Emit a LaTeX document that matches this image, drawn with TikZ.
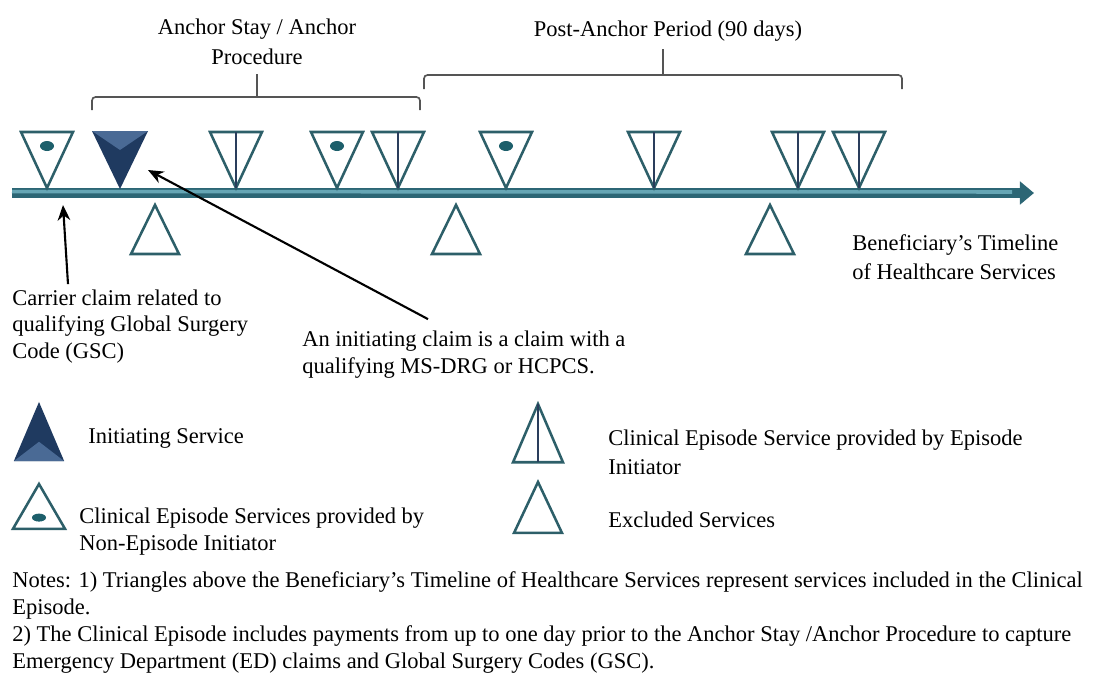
\documentclass[tikz,border=0pt]{standalone}
\usepackage{fontspec}
\setmainfont{Liberation Serif}
\usetikzlibrary{arrows.meta}
\definecolor{svcteal}{HTML}{2D5F69}
\definecolor{dotteal}{HTML}{1D5F6B}
\definecolor{svcnavy}{HTML}{2A3D5C}
\definecolor{ininavy}{HTML}{1F3A60}
\definecolor{inilight}{HTML}{4A6A95}
\definecolor{timedark}{HTML}{2C6675}
\definecolor{timelight}{HTML}{66A6B5}
\definecolor{bracegray}{HTML}{555555}
\newcommand{\txtsize}[1]{\fontsize{16pt}{#1}\selectfont}

\tikzset{
  tri/.style={draw=svcteal,line width=1.8pt,line join=miter,fill=white},
  brace/.style={draw=bracegray,line width=1.2pt,rounded corners=2.5pt},
  pointer/.style={draw=black,line width=1.5pt,-{Stealth[length=11pt,width=9pt]}},
  % multi-line labels sit on the baseline of their last line
  lbl/.style={inner sep=0pt,align=left,anchor=base west,font=\txtsize{#1}},
  lbl/.default=19.2pt,
  % service triangles, apex at the origin, pointing down
  pics/withdot/.style={code={
    \draw[tri] (-26,-56) -- (26,-56) -- (0,0) -- cycle;
    \fill[dotteal] (0,-42) ellipse[x radius=7,y radius=5];}},
  pics/withline/.style={code={
    \draw[tri] (-26,-56) -- (26,-56) -- (0,0) -- cycle;
    \draw[svcnavy,line width=1.6pt] (0,-56) -- (0,0);}},
  pics/initiating/.style={code={
    \fill[ininavy] (-28,-57) -- (28,-57) -- (0,1) -- cycle;
    \fill[inilight] (-28,-57) -- (28,-57) -- (0,-38) -- cycle;}},
  % excluded, apex at the origin, pointing up
  pics/excluded/.style={code={
    \draw[tri] (0,0) -- (24,49) -- (-24,49) -- cycle;}}
}

\begin{document}
\begin{tikzpicture}[x=0.025cm,y=-0.025cm]
\useasboundingbox (0,0) rectangle (1098,679);

% brackets
\draw[brace] (92,110) -- (92,97) -- (420,97) -- (420,110);
\draw[brace] (257,97) -- (257,74);
\draw[brace] (424,89) -- (424,75) -- (902,75) -- (902,89);
\draw[brace] (663,75) -- (663,49);
\node[lbl=21.3pt,anchor=base,align=center] (anchorlbl) at (257,64)
  {Anchor Stay / Anchor\\Procedure};
\node[lbl,anchor=base] (postlbl) at (668,36) {Post-Anchor Period (90 days)};

% timeline
\coordinate (tl0) at (12,193);
\coordinate (tl1) at (1034,193);
\draw[timedark,line width=6.5pt,-{Triangle[length=10pt,width=16pt]}] (tl0) -- (tl1);
\draw[timelight,line width=2.5pt] ([yshift=1pt]tl0) -- (1012,192);

% services above the line
\pic at (47,188) {withdot};
\pic at (120,188) {initiating};
\pic at (236,188) {withline};
\pic at (337,188) {withdot};
\pic at (398,188) {withline};
\pic at (506,188) {withdot};
\pic at (654,188) {withline};
\pic at (798,188) {withline};
\pic at (859,188) {withline};
% excluded services below the line
\foreach \ex in {155,456,770}
  \pic at (\ex,205) {excluded};

\node[lbl=20pt] (bene) at (852,279) {Beneficiary's Timeline\\of Healthcare Services};

% callouts
\coordinate (gsc) at (63,205);
\coordinate (initri) at (148,170);
\node[lbl=18.5pt] (carrier) at (12,358)
  {Carrier claim related to\\qualifying Global Surgery\\Code (GSC)};
\node[lbl] (initclaim) at (302,373)
  {An initiating claim is a claim with a\\qualifying MS-DRG or HCPCS.};
\draw[pointer] ([shift={(56,-6)}]carrier.north west) -- (gsc);
\draw[pointer] ([shift={(126,-11)}]initclaim.north west) -- (initri);

% legend
\pic[xscale=0.9,yscale=-1.02] at (39,403) {initiating};
\node[lbl] (legini) at (88,443) {Initiating Service};
\pic[yscale=-0.8] at (39,484) {withdot};
\node[lbl] (legnon) at (79,550)
  {Clinical Episode Services provided by\\Non-Episode Initiator};
\pic[xscale=0.96,yscale=-1.04] at (538,404) {withline};
\node[lbl=20pt] (legepi) at (608,474)
  {Clinical Episode Service provided by Episode\\Initiator};
\pic[yscale=1.04] at (538,482) {excluded};
\node[lbl] (legexcl) at (608,527) {Excluded Services};

% notes
\node[lbl] (notes) at (12,668) {Notes: 1) Triangles above the Beneficiary's Timeline of Healthcare Services represent services included in the Clinical\\Episode.\\2) The Clinical Episode includes payments from up to one day prior to the Anchor Stay /Anchor Procedure to capture\\Emergency Department (ED) claims and Global Surgery Codes (GSC).};
\end{tikzpicture}
\end{document}
